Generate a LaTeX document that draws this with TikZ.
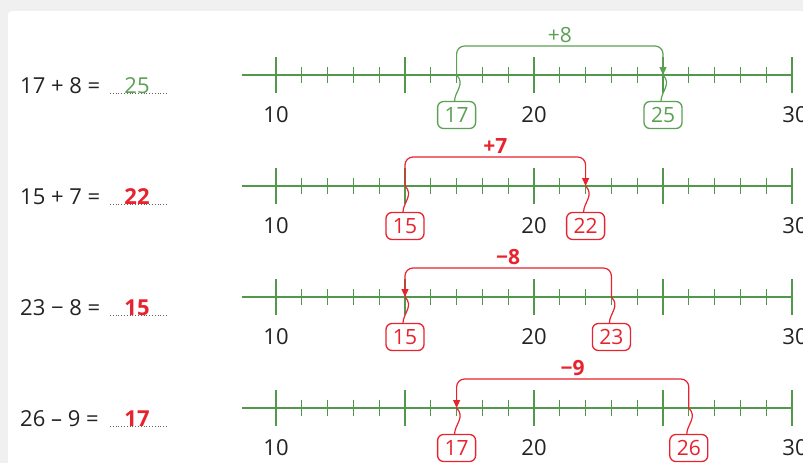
\documentclass[tikz,border=0pt]{standalone}
\usepackage{fontspec}
\setmainfont{Open Sans}
\usetikzlibrary{arrows.meta}
\definecolor{pagegray}{RGB}{240,240,240}
\definecolor{axgreen}{RGB}{82,152,76}
\definecolor{ansgreen}{RGB}{92,160,84}
\definecolor{ansred}{RGB}{232,34,46}
\definecolor{inkgray}{RGB}{35,35,35}
\begin{document}
\begin{tikzpicture}[x=1pt,y=-1pt,
  axisline/.style={axgreen,line width=1.9pt},
  bigtick/.style={axgreen,line width=1.8pt},
  smalltick/.style={axgreen,line width=1.3pt},
  numlab/.style={inkgray,font=\fontsize{22}{25}\selectfont},
  eqtext/.style={inkgray,anchor=base west,inner sep=0pt,font=\fontsize{22}{25}\selectfont},
  answer/.style={#1,anchor=base,inner sep=0pt,font=\fontsize{22}{25}\selectfont},
  numbox/.style={draw=#1,text=#1,rounded corners=6pt,line width=1.3pt,
    minimum width=38pt,minimum height=27pt,inner sep=1pt,font=\fontsize{21}{23}\selectfont},
  jump/.style={#1,line width=1.2pt,rounded corners=8pt,-{Triangle[length=8pt,width=7pt]}},
  wiggle/.style={#1,line width=1.2pt},
  jumplab/.style={#1,font=\fontsize{21}{24}\selectfont}]
\useasboundingbox (0,0) rectangle (803,463);
\fill[pagegray] (0,0) rectangle (803,463);
\fill[white,rounded corners=4pt] (8,11) rectangle (840,500);

% number lines and sums
\foreach \ay/\eq/\res/\col/\wt [count=\i] in {75/{17 + 8 =}/25/ansgreen/\mdseries,
    186/{15 + 7 =}/22/ansred/\bfseries,297/{23 − 8 =}/15/ansred/\bfseries,
    408/{26 – 9 =}/17/ansred/\bfseries}{
  \begin{scope}[shift={(0,\ay)}]
    \draw[axisline] (242,0) -- (792,0);
    \foreach \n [evaluate=\n as \tx using 276+25.8*\n,
                 evaluate=\n as \m using {int(mod(\n,5))}] in {0,...,20}{
      \ifnum\m=0
        \draw[bigtick] (\tx,-18) -- (\tx,18);
      \else
        \draw[smalltick] (\tx,-8) -- (\tx,8);
      \fi
    }
    \node[numlab] (ten\i) at (276,40) {10};
    \node[numlab] (twenty\i) at (534,40) {20};
    \node[numlab] (thirty\i) at (795,40) {30};
    \node[eqtext] (eq\i) at (20,18) {\eq};
    \draw[inkgray!70,line width=0.8pt,dotted] (110,18) -- (168,18);
    \node[answer=\col] (res\i) at (137,18) {\wt\res};
  \end{scope}
}

% jumps on the lines
\foreach \ay/\a/\sx/\b/\dx/\lab/\col/\wt [count=\i] in {75/17/456.6/25/663/+8/ansgreen/\mdseries,
    186/15/405/22/585.6/+7/ansred/\bfseries,297/23/611.4/15/405/−8/ansred/\bfseries,
    408/26/688.8/17/456.6/−9/ansred/\bfseries}{
  \begin{scope}[shift={(0,\ay)}]
    \coordinate (s\i) at (\sx,0);
    \coordinate (d\i) at (\dx,0);
    \coordinate (top\i) at ({(\sx+\dx)/2},-29);
    \node[numbox=\col] (from\i) at (\sx,40) {\a};
    \node[numbox=\col] (to\i) at (\dx,40) {\b};
    \draw[jump=\col] (s\i) |- (top\i) -| (d\i);
    \node[jumplab=\col,anchor=south] (lab\i) at ([yshift=0pt]top\i) {\wt\lab};
    \draw[wiggle=\col] (s\i) .. controls +(9,9) and +(0,-9) .. ([xshift=-2pt]from\i.north);
    \draw[wiggle=\col] (d\i) .. controls +(9,9) and +(0,-9) .. ([xshift=-2pt]to\i.north);
  \end{scope}
}
\end{tikzpicture}
\end{document}
